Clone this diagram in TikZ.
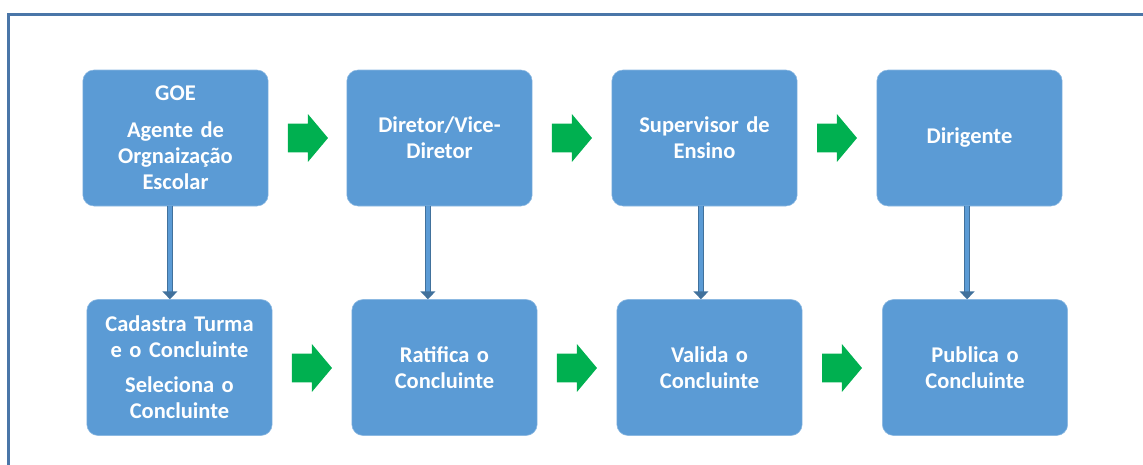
\documentclass[tikz,border=0pt]{standalone}
\usepackage{fontspec}
\setmainfont{Carlito}
\usetikzlibrary{shapes.arrows,arrows.meta}

\definecolor{boxblue}{HTML}{5B9BD5}
\definecolor{darkblue}{HTML}{41719C}
\definecolor{framblue}{HTML}{4A76A8}
\definecolor{arrgreen}{HTML}{00B050}

\tikzset{
  box/.style={rectangle,rounded corners=0.28cm,fill=boxblue,draw=boxblue!70!white,line width=0.4pt,
    minimum width=4.625cm,minimum height=3.4cm,text width=4.4cm,align=center,
    text=white,font=\fontsize{16}{18.7}\selectfont\bfseries},
  garrow/.style={single arrow,fill=arrgreen,inner xsep=0pt,inner ysep=0.35cm,minimum height=1cm,
    single arrow head extend=0.24cm,single arrow tip angle=100},
  vline/.style={draw=darkblue,line width=1pt,double=boxblue,double distance=2.6pt,
    -{Triangle[width=10.5pt,length=5.5pt]}}
}

\begin{document}
\begin{tikzpicture}

      \useasboundingbox (0,0) rectangle (28.575,-11.6);
      \draw[framblue,line width=1.8pt] (0.21,-0.36) rectangle (29.5,-12.5);

      \node[box] (goe) at (4.3875,-3.45){GOE\\[7pt]Agente de\\Orgnaização\\Escolar};
      \node[box] (dir) at (10.9875,-3.45){Diretor/Vice-\\Diretor};
      \node[box] (sup) at (17.6125,-3.45){Supervisor de\\Ensino};
      \node[box] (dirig) at (24.2375,-3.45){Dirigente};

      \node[box] (cad) at (4.4875,-9.1875){Cadastra Turma\\e o Concluinte\\[6pt]Seleciona o\\Concluinte};
      \node[box] (rat) at (11.1125,-9.1875){Ratifica o\\Concluinte};
      \node[box] (val) at (17.7375,-9.1875){Valida o\\Concluinte};
      \node[box] (pub) at (24.375,-9.1875){Publica o\\Concluinte};

      \node[garrow] (g1) at (7.55,-3.45){};
      \node[garrow] (g2) at (14.15,-3.45){};
      \node[garrow] (g3) at (20.775,-3.45){};
      \node[garrow] (g4) at (7.65,-9.2){};
      \node[garrow] (g5) at (14.275,-9.2){};
      \node[garrow] (g6) at (20.9,-9.2){};

      \draw[vline] ([xshift=-0.14cm]goe.south) -- ([xshift=-0.14cm]goe.south |- cad.north);
      \draw[vline] ([xshift=-0.29cm]dir.south) -- ([xshift=-0.29cm]dir.south |- rat.north);
      \draw[vline] ([xshift=-0.09cm]sup.south) -- ([xshift=-0.09cm]sup.south |- val.north);
      \draw[vline] ([xshift=-0.06cm]dirig.south) -- ([xshift=-0.06cm]dirig.south |- pub.north);

\end{tikzpicture}
\end{document}
